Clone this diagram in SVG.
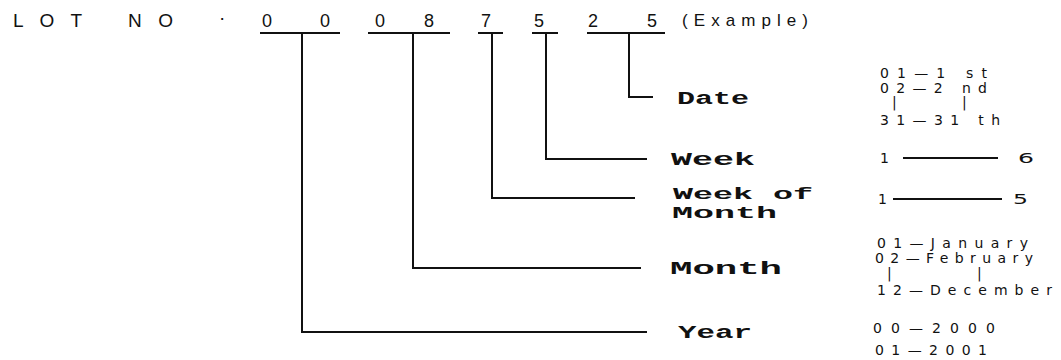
<svg xmlns="http://www.w3.org/2000/svg" width="1061" height="360" viewBox="0 0 1061 360">
  <style>
    .hd { font-family: "Liberation Sans", Arial, sans-serif; font-size: 19px; fill: #111; }
    .dg { font-family: "Liberation Sans", Arial, sans-serif; font-size: 18px; fill: #111; text-anchor: middle; }
    .ex { font-family: "Liberation Sans", Arial, sans-serif; font-size: 17px; fill: #111; }
    .lb { font-family: "Liberation Mono", "Courier New", monospace; font-size: 18px; font-weight: bold; fill: #111; }
    .lb2 { font-family: "Liberation Mono", "Courier New", monospace; font-size: 16px; font-weight: bold; fill: #111; }
    .vl { font-family: "DejaVu Sans", "Liberation Sans", sans-serif; font-size: 14px; fill: #111; }
    .ln { stroke: #111; stroke-width: 2; fill: none; }
  </style>
  <rect width="1061" height="360" fill="#ffffff"/>

  <g id="header">
    <text class="hd" x="13" y="27" textLength="69" lengthAdjust="spacing">LOT</text>
    <text class="hd" x="128" y="27" textLength="45" lengthAdjust="spacing">NO</text>
    <text class="hd" x="219" y="24">·</text>
    <text class="dg" x="267" y="27">0</text>
    <text class="dg" x="325" y="27">0</text>
    <text class="dg" x="380" y="27">0</text>
    <text class="dg" x="429" y="27">8</text>
    <text class="dg" x="486" y="27">7</text>
    <text class="dg" x="539" y="27">5</text>
    <text class="dg" x="593" y="27">2</text>
    <text class="dg" x="652" y="27">5</text>
    <text class="ex" x="682" y="26" textLength="126" lengthAdjust="spacing">(Example)</text>
  </g>

  <g id="connectors">
    <line class="ln" x1="260" y1="33" x2="340" y2="33"/>
    <line class="ln" x1="368" y1="33" x2="450" y2="33"/>
    <line class="ln" x1="478" y1="33" x2="503" y2="33"/>
    <line class="ln" x1="532" y1="33" x2="558" y2="33"/>
    <line class="ln" x1="587" y1="33" x2="665" y2="33"/>
    <polyline class="ln" points="302,33 302,332 647,332"/>
    <polyline class="ln" points="413,33 413,268 641,268"/>
    <polyline class="ln" points="492,33 492,198 635,198"/>
    <polyline class="ln" points="546,33 546,159 647,159"/>
    <polyline class="ln" points="629,33 629,97 653,97"/>
  </g>

  <g id="date">
    <text class="lb" x="677" y="104" textLength="72" lengthAdjust="spacingAndGlyphs">Date</text>
    <text class="vl" x="880" y="78" textLength="107" lengthAdjust="spacing">01—1 st</text>
    <text class="vl" x="880" y="93" textLength="107" lengthAdjust="spacing">02—2 nd</text>
    <text class="vl" x="892" y="107">|</text>
    <text class="vl" x="962" y="107">|</text>
    <text class="vl" x="880" y="125" textLength="120" lengthAdjust="spacing">31—31 th</text>
  </g>

  <g id="week">
    <text class="lb" x="671" y="165" textLength="84" lengthAdjust="spacingAndGlyphs">Week</text>
    <text class="vl" x="880" y="163">1</text>
    <line class="ln" x1="903" y1="158" x2="998" y2="158"/>
    <text class="vl" x="1018" y="163" textLength="16" lengthAdjust="spacingAndGlyphs">6</text>
  </g>

  <g id="week-of-month">
    <text class="lb2" x="673" y="199" textLength="140" lengthAdjust="spacingAndGlyphs">Week of</text>
    <text class="lb2" x="672" y="218" textLength="105" lengthAdjust="spacingAndGlyphs">Month</text>
    <text class="vl" x="878" y="204">1</text>
    <line class="ln" x1="893" y1="199" x2="1002" y2="199"/>
    <text class="vl" x="1013" y="204" textLength="15" lengthAdjust="spacingAndGlyphs">5</text>
  </g>

  <g id="month">
    <text class="lb" x="670" y="274" textLength="112" lengthAdjust="spacingAndGlyphs">Month</text>
    <text class="vl" x="877" y="248" textLength="151" lengthAdjust="spacing">01—January</text>
    <text class="vl" x="875" y="263" textLength="158" lengthAdjust="spacing">02—February</text>
    <text class="vl" x="887" y="278">|</text>
    <text class="vl" x="977" y="278">|</text>
    <text class="vl" x="877" y="295" textLength="175" lengthAdjust="spacing">12—December</text>
  </g>

  <g id="year">
    <text class="lb" x="678" y="338" textLength="74" lengthAdjust="spacingAndGlyphs">Year</text>
    <text class="vl" x="873" y="333" textLength="122" lengthAdjust="spacing">00—2000</text>
    <text class="vl" x="875" y="355" textLength="112" lengthAdjust="spacing">01—2001</text>
  </g>
</svg>
